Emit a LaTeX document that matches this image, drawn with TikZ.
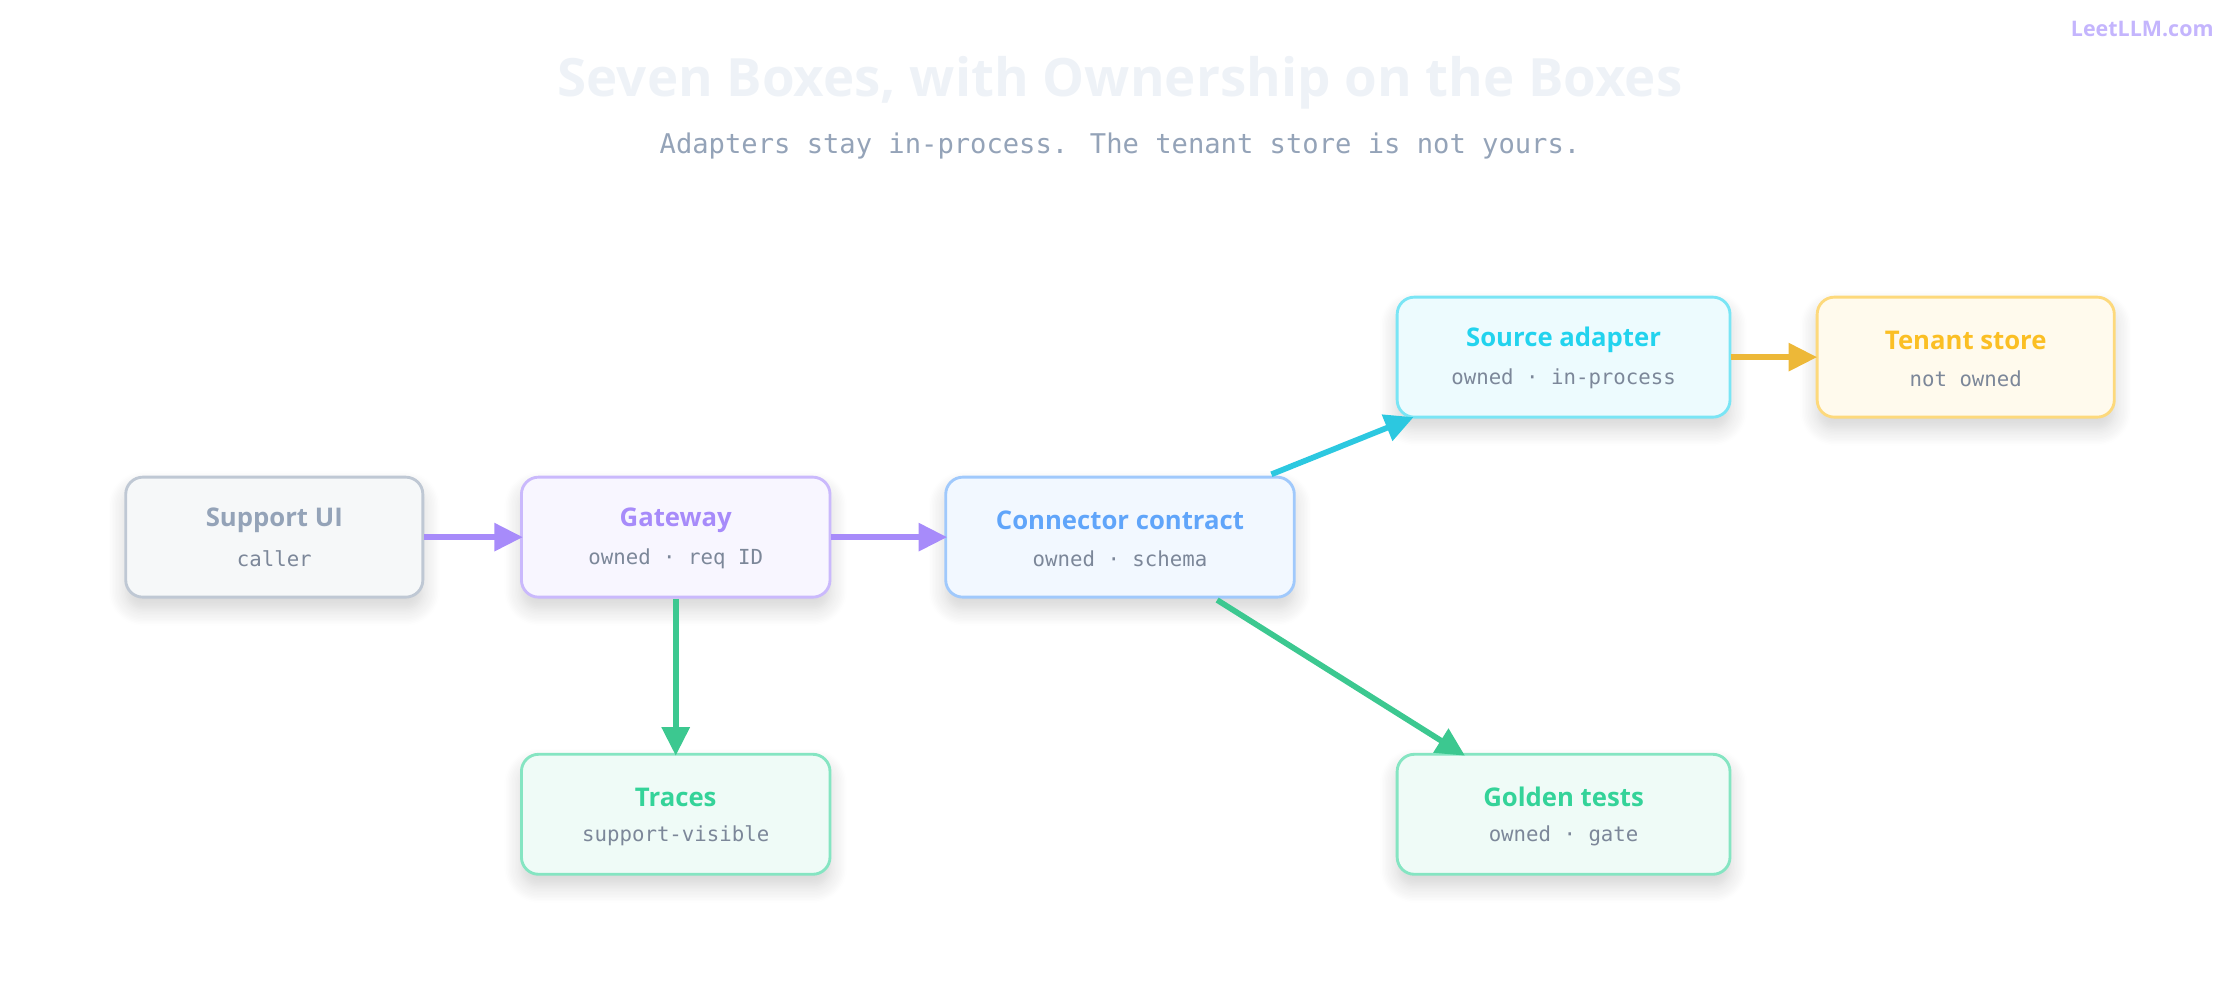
\documentclass[tikz,border=0pt]{standalone}
\usepackage{fontspec}
\setmainfont{Open Sans}
\newfontfamily\mono{DejaVu Sans Mono}
\usetikzlibrary{arrows.meta,shadows.blur}
\definecolor{tgray}{HTML}{94A3B8}
\definecolor{sub}{HTML}{7C8799}
\definecolor{ttlc}{HTML}{EEF2F7}
\definecolor{wmc}{HTML}{C4B5FD}
\begin{document}
\begin{tikzpicture}[x=1pt,y=-1pt,
  box/.style={draw=#1!60, fill=#1!8, line width=2pt, rounded corners=12pt, blur shadow={shadow xshift=0pt,shadow yshift=-8pt,shadow opacity=18,shadow blur steps=12,shadow blur radius=12pt}},
  ttl/.style={font=\fontsize{18}{20}\selectfont\bfseries, text=#1},
  st/.style={font=\mono\fontsize{14.5}{16}\selectfont, text=sub},
  ar/.style={draw=#1, line width=4pt, -{Triangle[length=20pt,width=19pt]}}]
\definecolor{cg}{HTML}{94A3B8}
\definecolor{cp}{HTML}{A78BFA}
\definecolor{cb}{HTML}{60A5FA}
\definecolor{cc}{HTML}{22D3EE}
\definecolor{ca}{HTML}{FBBF24}
\definecolor{cn}{HTML}{34D399}
\definecolor{ccd}{HTML}{2CC8E0}
\definecolor{cad}{HTML}{EDB838}
\definecolor{cnd}{HTML}{3CC890}
\useasboundingbox (0,0) rectangle (1568,700);
\node[font=\fontsize{37}{42}\selectfont\bfseries, text=ttlc] (title) at (784,58) {Seven Boxes, with Ownership on the Boxes};
\node[font=\mono\fontsize{19}{22}\selectfont, text=tgray] (subt) at (784,102) {Adapters stay in-process. The tenant store is not yours.};
\node[font=\fontsize{15}{17}\selectfont\bfseries, text=wmc, anchor=east] (wm) at (1553,20) {LeetLLM.com};
% boxes
\newcommand{\bx}[7]{%
  \path[box=#5] (#1-#3/2,#2-42) rectangle (#1+#3/2,#2+42);
  \coordinate (#4) at (#1,#2);
  \node[ttl=#5] (#4-t) at (#1,#2-12) {#6};
  \node[st] (#4-s) at (#1,#2+15) {#7};}
\bx{192}{376}{208}{sui}{cg}{Support UI}{caller}
\bx{473}{376}{216}{gw}{cp}{Gateway}{owned · req ID}
\bx{784}{376}{244}{cc}{cb}{Connector contract}{owned · schema}
\bx{1094.5}{250}{233}{sa}{cc}{Source adapter}{owned · in-process}
\bx{1376}{250}{208}{ts}{ca}{Tenant store}{not owned}
\bx{473}{570}{216}{tr}{cn}{Traces}{support-visible}
\bx{1094.5}{570}{233}{gt}{cn}{Golden tests}{owned · gate}
% edges
\draw[ar=cp] ([xshift=105pt]sui) -- ([xshift=-107pt]gw);
\draw[ar=cp] ([xshift=109pt]gw) -- ([xshift=-121pt]cc);
\draw[ar=cnd] ([yshift=-43pt]gw) -- ([yshift=41pt]tr);
\draw[ar=ccd] ([xshift=106pt,yshift=44pt]cc) -- ([xshift=-105pt,yshift=-42pt]sa);
\draw[ar=cnd] ([xshift=68pt,yshift=-44pt]cc) -- ([xshift=-69pt,yshift=41pt]gt);
\draw[ar=cad] ([xshift=117pt]sa) -- ([xshift=-104pt]ts);
\end{tikzpicture}
\end{document}
